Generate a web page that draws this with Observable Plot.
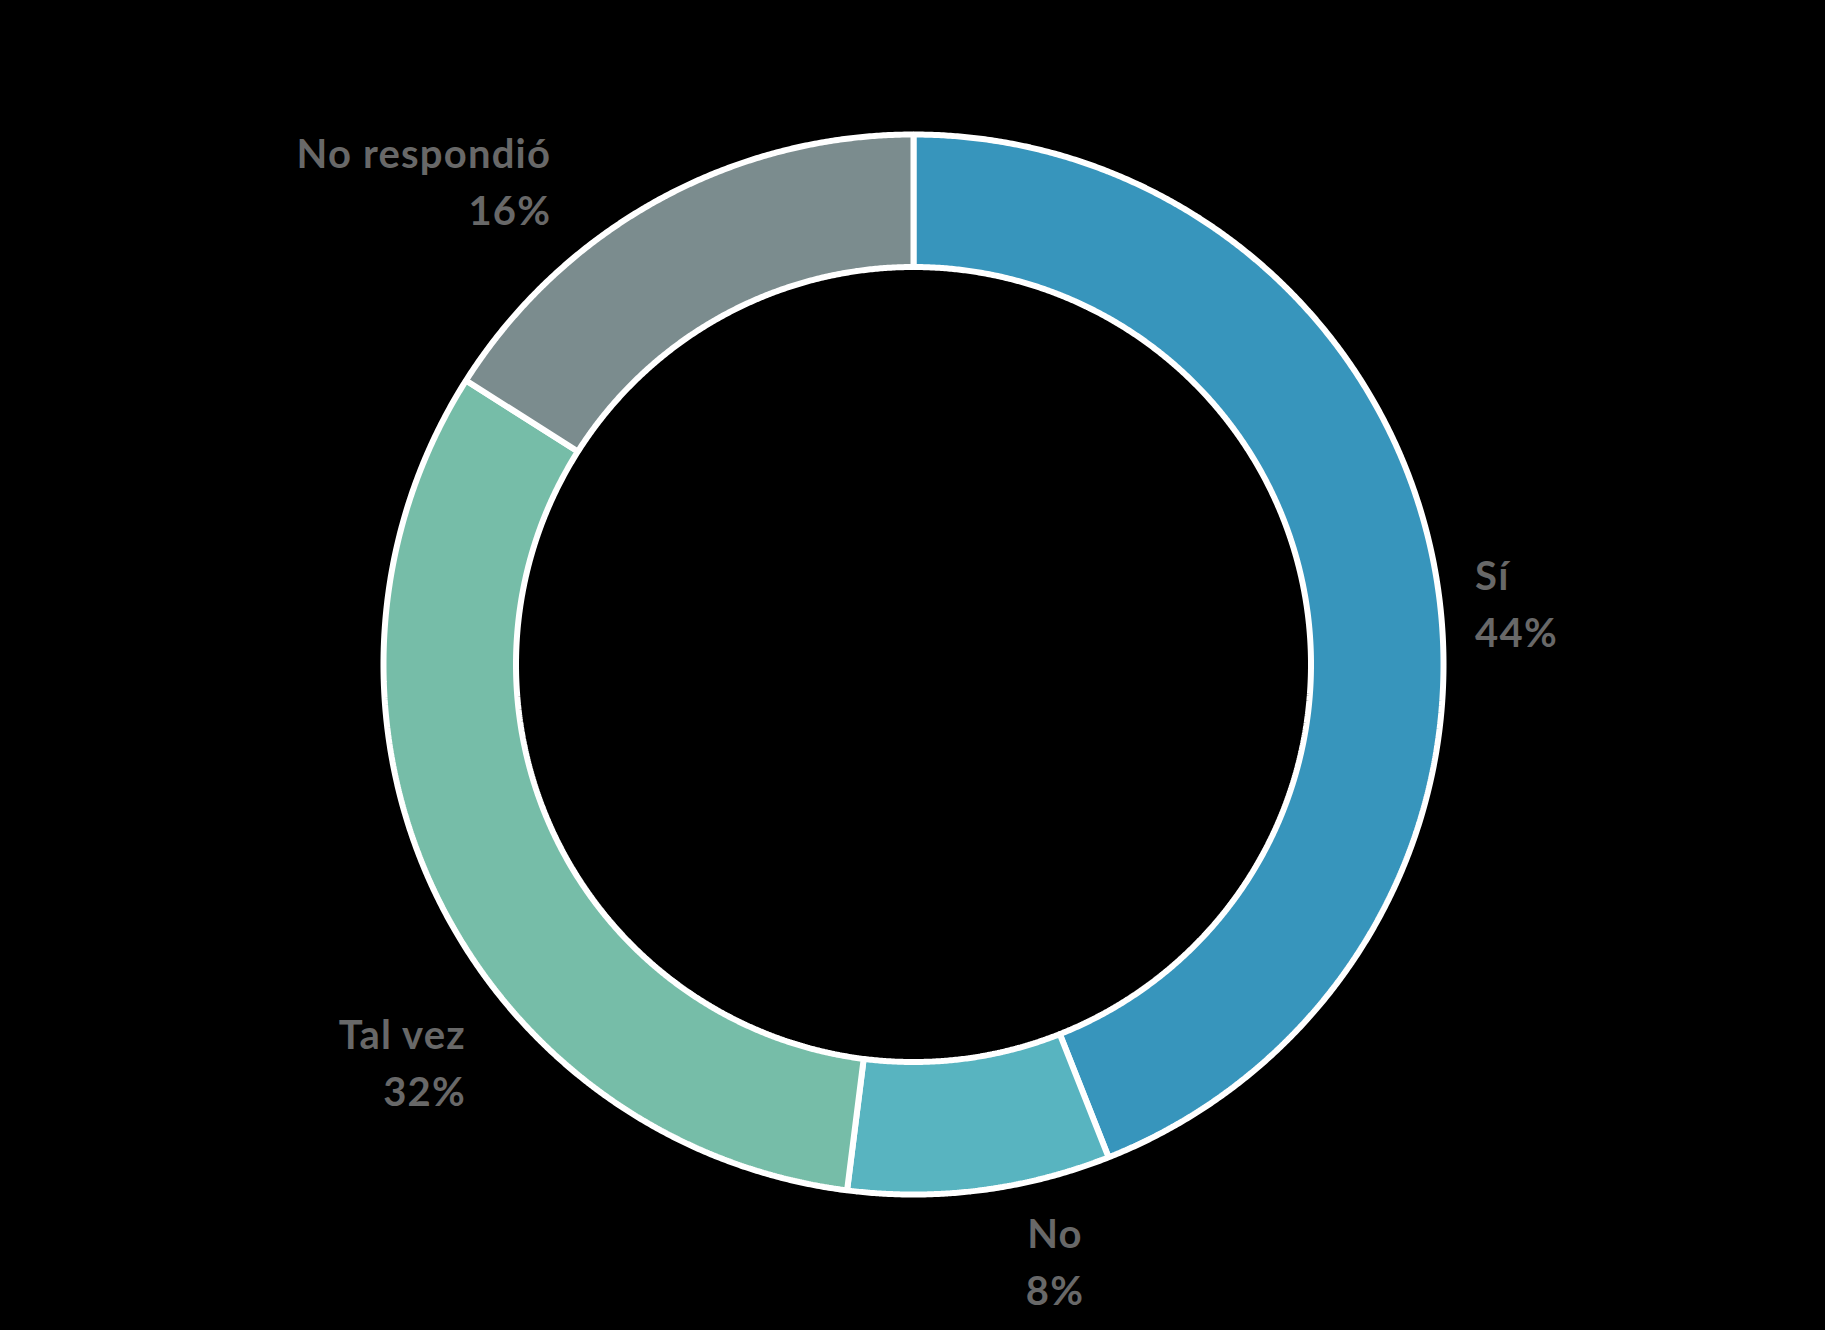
<!DOCTYPE html>
<html>
<head>
<meta charset="utf-8">
<script src="https://cdn.jsdelivr.net/npm/d3@7"></script>
<script src="https://cdn.jsdelivr.net/npm/@observablehq/plot@0.6"></script>
<style>
  html, body { margin: 0; padding: 0; background: #000; }
  #chart { width: 1825px; height: 1330px; }
</style>
</head>
<body>
<div id="chart"></div>
<script>
// ---- data ----
const categories = ["Sí", "No", "Tal vez", "No respondió"];
const percents = [44, 8, 32, 16];

// ---- styles / layout ----
const colors = ["#3795bc", "#58b4c0", "#76bda8", "#7b8c8e"];
const innerRatio = 0.75;
// label nudges (pixels) relative to the outer edge at each slice's mid-angle
const labelAnchor = ["start", "middle", "end", "end"];
const labelDx = [41, 75, 32, -107];
const labelDy = [35, 68, 169, -22];

const W = 1825, H = 1330, R = 530, cx = 913, cy = 664;

// build slice polygons from the data (angles clockwise from 12 o'clock)
const total = d3.sum(percents);
let acc = 0;
const slices = categories.map((c, i) => {
  const a0 = acc / total * 2 * Math.PI;
  acc += percents[i];
  const a1 = acc / total * 2 * Math.PI;
  return {category: c, value: percents[i], a0, a1, mid: (a0 + a1) / 2};
});

const poly = [];
for (const s of slices) {
  const n = Math.max(8, Math.ceil((s.a1 - s.a0) / (Math.PI / 720)));
  for (let k = 0; k <= n; k++) {
    const a = s.a0 + (s.a1 - s.a0) * k / n;
    poly.push({category: s.category, x: Math.sin(a), y: Math.cos(a)});
  }
  for (let k = n; k >= 0; k--) {
    const a = s.a0 + (s.a1 - s.a0) * k / n;
    poly.push({category: s.category, x: innerRatio * Math.sin(a), y: innerRatio * Math.cos(a)});
  }
}

const labels = slices.map((s, i) => ({
  text: `${s.category}\n${s.value}%`,
  x: Math.sin(s.mid), y: Math.cos(s.mid),
  anchor: labelAnchor[i], dx: labelDx[i], dy: labelDy[i]
}));

const marks = [
  Plot.line(poly, {
    x: "x", y: "y", z: "category", fill: "category",
    stroke: "white", strokeWidth: 6, strokeLinejoin: "miter",
    curve: "linear-closed"
  })
];
for (const l of labels) {
  marks.push(Plot.text([l], {
    x: "x", y: "y", text: "text",
    textAnchor: l.anchor, lineAnchor: "middle", lineHeight: 1.43,
    dx: l.dx, dy: l.dy,
    fill: "#686868", fontSize: 40, fontWeight: 700,
    fontFamily: "Lato, 'Open Sans', sans-serif",
    style: {letterSpacing: "1.2px"}
  }));
}

const chart = Plot.plot({
  width: W, height: H,
  margin: 0,
  style: {background: "transparent", overflow: "visible"},
  x: {domain: [-cx / R, (W - cx) / R], axis: null},
  y: {domain: [-(H - cy) / R, cy / R], axis: null},
  color: {domain: categories, range: colors},
  marks
});
chart.querySelectorAll("text").forEach(t => t.style.letterSpacing = "1.2px");
document.getElementById("chart").appendChild(chart);
</script>
</body>
</html>
